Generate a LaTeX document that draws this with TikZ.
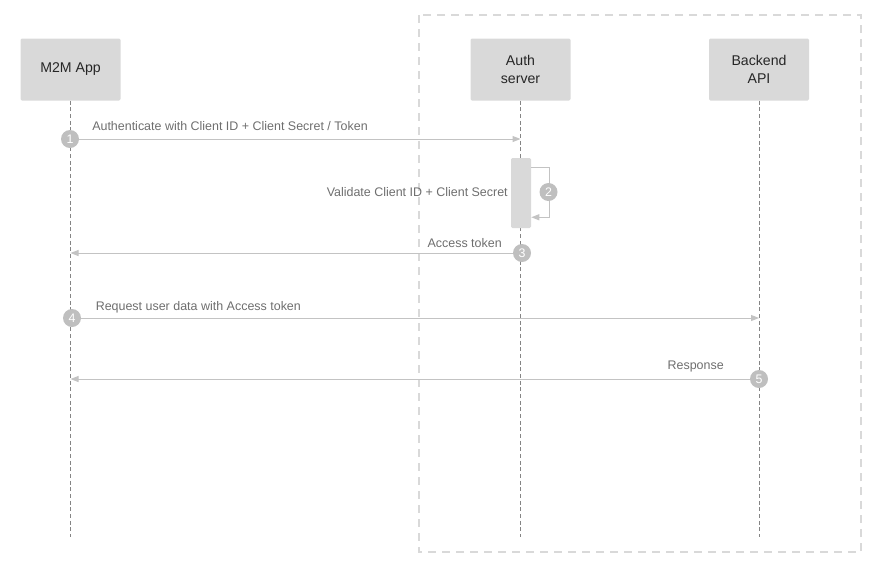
\documentclass[tikz,border=0pt]{standalone}
\usepackage{fontspec}
\setmainfont{Liberation Sans}
\usepackage{xcolor}
\usepackage{tikz}
\usetikzlibrary{
    arrows.meta,
    positioning
}
\definecolor{boxgray}{HTML}{D9D9D9}
\definecolor{linegray}{HTML}{C3C3C3}
\definecolor{stepgray}{HTML}{BFBFBF}
\definecolor{textgray}{HTML}{6E6E6E}
\definecolor{lifegray}{HTML}{858585}
\tikzstyle{actor} = [
    rectangle,
    rounded corners=1pt,
    minimum width=75pt,
    minimum height=46.5pt,
    text centered,
    align=center,
    fill=boxgray,
    text=black!85,
    font=\fontsize{10.6}{13.5}\selectfont
]
\tikzstyle{stepnum} = [
    circle,
    fill=stepgray,
    text=white,
    inner sep=0pt,
    minimum size=13.5pt,
    font=\fontsize{9.3}{10}\selectfont
]
\tikzstyle{msg} = [
    draw=linegray,
    line width=0.75pt,
    -{Triangle[length=6pt,width=4.5pt]}
]
\tikzstyle{msglabel} = [
    text=textgray,
    inner sep=0pt,
    font=\fontsize{9.35}{11}\selectfont
]
\tikzstyle{lifeline} = [
    draw=lifegray,
    line width=0.6pt,
    dash pattern=on 3pt off 2pt
]
\tikzstyle{frame} = [
    draw=boxgray,
    line width=1.5pt,
    dash pattern=on 6pt off 4.5pt
]

\begin{document}
\begin{tikzpicture}[x=0.75pt, y=-0.75pt]
    \useasboundingbox (0,0) rectangle (887,569);
    % server side
    \draw[frame] (419,15) rectangle (861,552);

    \node[actor] (app)  at (70.5,69.5) {M2M App};
    \node[actor] (auth) at (520.5,69.5) {Auth\\server};
    \node[actor] (api)  at (759,69.5) {Backend\\API};

    \coordinate (bottom) at (0,537);
    \draw[lifeline] (app.south)  -- (app.south |- bottom);
    \draw[lifeline] (auth.south) -- (auth.south |- bottom);
    \draw[lifeline] (api.south)  -- (api.south |- bottom);

    \node[fill=boxgray, rounded corners=1pt, inner sep=0pt,
          minimum width=15pt, minimum height=52.5pt] (bar) at (521,193) {};

    % 1
    \node[stepnum] (s1) at (70,139) {1};
    \draw[msg] (s1) -- (s1 -| auth);
    \node[msglabel, anchor=west] (l1) at (92,126.5)
        {Authenticate with Client ID + Client Secret / Token};

    % 2
    \draw[msg] ([yshift=-7.5pt]bar.north east) -- ++(18,0)
        |- ([yshift=8.25pt]bar.south east);
    \node[stepnum] (s2) at (548.5,192) {2};
    \node[msglabel, anchor=east] (l2) at (508,192)
        {Validate Client ID + Client Secret};

    % 3
    \node[stepnum] (s3) at (522,253) {3};
    \draw[msg] (s3) -- (s3 -| app);
    \node[msglabel, anchor=east] (l3) at (502,243) {Access token};

    % 4
    \node[stepnum] (s4) at (72,318) {4};
    \draw[msg] (s4) -- (s4 -| api);
    \node[msglabel, anchor=west] (l4) at (95.5,307) {Request user data with Access token};

    % 5
    \node[stepnum] (s5) at (759,379) {5};
    \draw[msg] (s5) -- (s5 -| app);
    \node[msglabel, anchor=east] (l5) at (724,366.5) {Response};
\end{tikzpicture}
\end{document}
